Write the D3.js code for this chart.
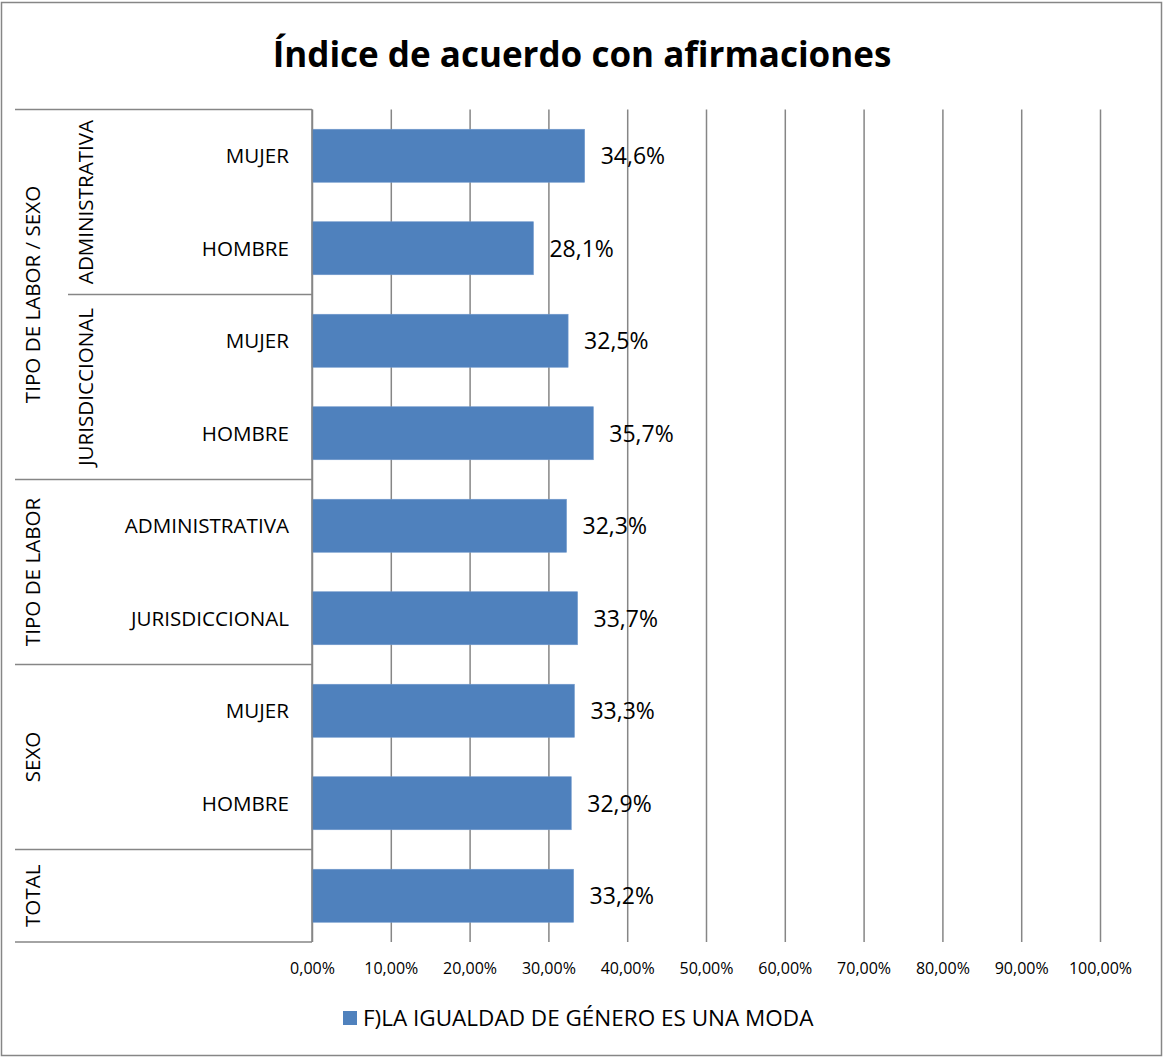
<!DOCTYPE html>
<html>
<head>
<meta charset="utf-8">
<script src="https://cdn.jsdelivr.net/npm/d3@7"></script>
<style>
  html, body { margin: 0; padding: 0; background: #ffffff; }
  svg { display: block; }
  text { font-family: "Open Sans", "Noto Sans", sans-serif; fill: #000; }
</style>
</head>
<body>
<svg id="chart" width="1163" height="1057"></svg>
<script>
// ---- data ----
const title = "Índice de acuerdo con afirmaciones";
const seriesName = "F)LA IGUALDAD DE GÉNERO ES UNA MODA";
// category hierarchy, top to bottom
const outerLabels = ["TIPO DE LABOR / SEXO", "TIPO DE LABOR / SEXO", "TIPO DE LABOR / SEXO", "TIPO DE LABOR / SEXO",
                     "TIPO DE LABOR", "TIPO DE LABOR", "SEXO", "SEXO", "TOTAL"];
const middleLabels = ["ADMINISTRATIVA", "ADMINISTRATIVA", "JURISDICCIONAL", "JURISDICCIONAL",
                      "", "", "", "", ""];
const leafLabels = ["MUJER", "HOMBRE", "MUJER", "HOMBRE",
                    "ADMINISTRATIVA", "JURISDICCIONAL", "MUJER", "HOMBRE", ""];
const values = [0.346, 0.281, 0.325, 0.357, 0.323, 0.337, 0.333, 0.329, 0.332];
const xTicks = [0, 0.1, 0.2, 0.3, 0.4, 0.5, 0.6, 0.7, 0.8, 0.9, 1.0];

// ---- layout ----
const plot = { left: 312, right: 1100, top: 109.5, bottom: 942 };
const colOuter = 15, colMiddle = 68;
const barColor = "#4F81BD";
const lineColor = "#868686";
const catFont = "20.6px";

const svg = d3.select("#chart");
const locale = d3.formatLocale({ decimal: ",", thousands: ".", grouping: [3], currency: ["", "€"] });
const tickFmt = locale.format(".2%");
const labelFmt = locale.format(".1%");

const idx = values.map((d, i) => i);
const x = d3.scaleLinear().domain([0, 1]).range([plot.left, plot.right]);
const y = d3.scaleBand().domain(idx).range([plot.top, plot.bottom]).paddingInner(0.427).paddingOuter(0.2135);

// outer frame
svg.append("rect")
  .attr("x", 1.5).attr("y", 2.5).attr("width", 1160).attr("height", 1053)
  .attr("fill", "#fff").attr("stroke", lineColor).attr("stroke-width", 1.5);

// title
svg.append("text")
  .attr("x", 582).attr("y", 67)
  .attr("text-anchor", "middle")
  .style("font-size", "35px").style("font-weight", "bold")
  .text(title);

// vertical gridlines via bottom axis
const xAxis = d3.axisBottom(x).tickValues(xTicks).tickFormat(tickFmt)
  .tickSize(plot.bottom - plot.top).tickPadding(0);
const gx = svg.append("g").attr("transform", `translate(0,${plot.top})`).call(xAxis);
gx.select(".domain").remove();
gx.selectAll(".tick line").attr("stroke", lineColor).attr("stroke-width", 1.5);
gx.selectAll(".tick text")
  .attr("y", plot.bottom - plot.top + 31.5)
  .attr("dy", 0)
  .style("font-size", "16px")
  .style("font-family", "'Open Sans', sans-serif")
  .attr("fill", "#000");

// bars
svg.append("g").selectAll("rect").data(idx).join("rect")
  .attr("x", x(0))
  .attr("y", i => y(i))
  .attr("width", i => x(values[i]) - x(0))
  .attr("height", y.bandwidth())
  .attr("fill", barColor)
  .attr("stroke", "#6f98cc").attr("stroke-width", 0.6);

// value labels
svg.append("g").selectAll("text").data(idx).join("text")
  .attr("x", i => x(values[i]) + 16)
  .attr("y", i => y(i) + y.bandwidth() / 2)
  .attr("dy", "0.36em")
  .style("font-size", "23px")
  .text(i => labelFmt(values[i]));

// vertical axis line
svg.append("line")
  .attr("x1", plot.left).attr("x2", plot.left)
  .attr("y1", plot.top).attr("y2", plot.bottom)
  .attr("stroke", lineColor).attr("stroke-width", 1.5);

// ---- hierarchical category axis ----
const step = y.step();
const bandTop = i => plot.top + i * step;   // top edge of the category slot
function runs(labels) {
  const out = [];
  labels.forEach((l, i) => {
    const last = out[out.length - 1];
    if (last && last.label === l && (outerLabels[i] === outerLabels[last.start])) last.end = i;
    else out.push({ label: l, start: i, end: i });
  });
  return out;
}
const outerRuns = runs(outerLabels);
const middleRuns = runs(middleLabels);

const axisG = svg.append("g");
// top edge
axisG.append("line").attr("x1", colOuter).attr("x2", plot.left)
  .attr("y1", plot.top).attr("y2", plot.top);
// separators between outer groups (full width)
outerRuns.forEach(r => {
  axisG.append("line").attr("x1", colOuter).attr("x2", plot.left)
    .attr("y1", bandTop(r.end + 1)).attr("y2", bandTop(r.end + 1));
});
// separators between middle groups inside an outer group
middleRuns.forEach(r => {
  const yb = bandTop(r.end + 1);
  const isOuterEdge = outerRuns.some(o => o.end === r.end);
  if (r.label && !isOuterEdge) {
    axisG.append("line").attr("x1", colMiddle).attr("x2", plot.left)
      .attr("y1", yb).attr("y2", yb);
  }
});
axisG.selectAll("line").attr("stroke", lineColor).attr("stroke-width", 1.5);

// outer labels (rotated)
axisG.selectAll("text.outer").data(outerRuns).join("text")
  .attr("class", "outer")
  .attr("transform", r => `translate(39.5,${(bandTop(r.start) + bandTop(r.end + 1)) / 2}) rotate(-90)`)
  .attr("text-anchor", "middle")
  .style("font-size", catFont)
  .text(r => r.label);

// middle labels (rotated)
axisG.selectAll("text.middle").data(middleRuns.filter(r => r.label)).join("text")
  .attr("class", "middle")
  .attr("transform", r => `translate(92.5,${(bandTop(r.start) + bandTop(r.end + 1)) / 2}) rotate(-90)`)
  .attr("text-anchor", "middle")
  .style("font-size", catFont)
  .text(r => r.label);

// leaf labels
axisG.selectAll("text.leaf").data(idx).join("text")
  .attr("class", "leaf")
  .attr("x", 289)
  .attr("y", i => y(i) + y.bandwidth() / 2)
  .attr("dy", "0.36em")
  .attr("text-anchor", "end")
  .style("font-size", catFont)
  .text(i => leafLabels[i]);

// legend
const lg = svg.append("g").attr("transform", "translate(343,1011)");
lg.append("rect").attr("width", 14).attr("height", 14).attr("fill", barColor);
lg.append("text").attr("x", 20).attr("y", 15)
  .style("font-size", "22.5px")
  .text(seriesName);
</script>
</body>
</html>
